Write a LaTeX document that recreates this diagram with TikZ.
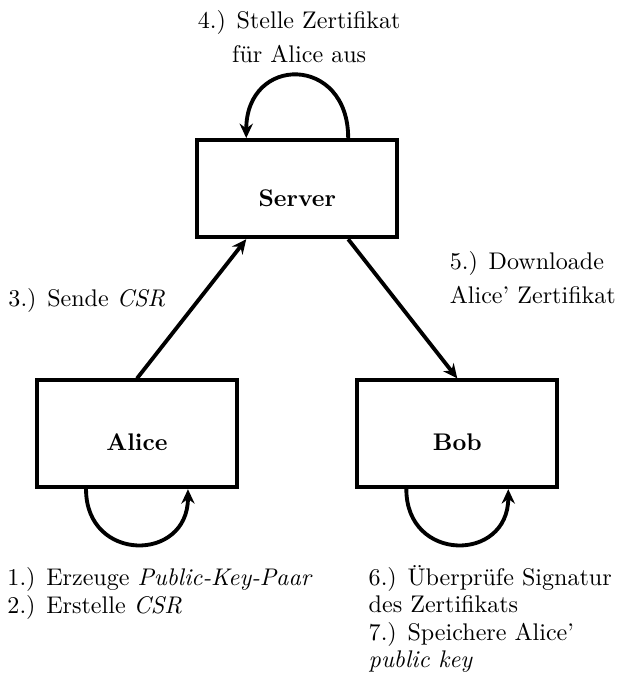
\documentclass[tikz,border=0pt]{standalone}
\usetikzlibrary{calc, positioning, arrows.meta}

\tikzset{
  entity/.style={draw, ultra thick, minimum width=2.92cm, inner sep=0pt, font=\bfseries},
  note/.style={inner sep=0pt, align=left},
  flow/.style={-{Stealth[length=6pt, width=5.5pt, inset=2pt]}, ultra thick}
}

\begin{document}
\begin{tikzpicture}
  \useasboundingbox (0,0) rectangle (9,-10);
  % Teilnehmer
  \node[entity, text height=27.6pt, text depth=12.8pt] (server) at (4.339,-2.754) {Server};
  \node[entity, text height=29.1pt, text depth=15.3pt] (alice) at (2.0,-6.333) {Alice};
  \node[entity, text height=29.1pt, text depth=15.3pt] (bob) at (6.676,-6.333) {Bob};
  % Schleifen
  \draw[flow] ($(alice.south west)!.25!(alice.south east)$) to[out=-90, in=-90, looseness=1.85]
    ($(alice.south west)!.75!(alice.south east)$);
  \draw[flow] ($(bob.south west)!.25!(bob.south east)$) to[out=-90, in=-90, looseness=1.85]
    ($(bob.south west)!.75!(bob.south east)$);
  \draw[flow] ($(server.north west)!.75!(server.north east)$) to[out=90, in=90, looseness=2.1]
    ($(server.north west)!.25!(server.north east)$);
  % Nachrichten
  \draw[flow] (alice.north) -- ($(server.south west)!.25!(server.south east)$);
  \draw[flow] ($(server.south west)!.75!(server.south east)$) -- (bob.north);
  % Beschriftungen (Anker an der letzten Zeile)
  \node[note, align=center, anchor=base] (step4) at (4.368,-0.906)
    {4.) Stelle Zertifikat\\[1.9pt] für Alice aus};
  \node[note, anchor=base west] (step3) at (0.117,-4.470) {3.) Sende \textit{CSR}};
  \node[note, anchor=base west] (step5) at (6.560,-4.427)
    {5.) Downloade\\[2.2pt] Alice' Zertifikat};
  \node[note, anchor=base west] (step12) at (0.102,-8.955)
    {1.) Erzeuge \textit{Public-Key-Paar}\\[-0.6pt] 2.) Erstelle \textit{CSR}};
  \node[note, anchor=base west] (step67) at (5.376,-9.744)
    {6.) Überprüfe Signatur\\[-0.6pt] des Zertifikats\\[-0.6pt] 7.) Speichere Alice'\\[-0.6pt] \textit{public key}};
\end{tikzpicture}
\end{document}
